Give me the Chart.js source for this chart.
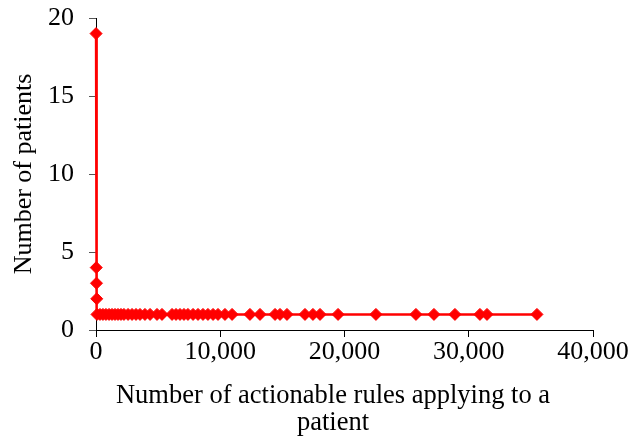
<!DOCTYPE html>
<html>
<head>
<meta charset="utf-8">
<script src="https://cdn.jsdelivr.net/npm/chart.js@4"></script>
<style>
  html, body { margin: 0; padding: 0; background: #fff; }
  #wrap { width: 641px; height: 443px; }
</style>
</head>
<body>
<div id="wrap"><canvas id="c" width="641" height="443"></canvas></div>
<script>
// Number of actionable rules that apply to each patient (x) and how many patients share that count (y)
const ruleCounts = [
  5, 20, 40, 60,
  80, 320, 560, 800, 1050, 1290, 1530, 1770, 2010, 2250, 2580, 2900, 3220, 3540,
  3940, 4350, 4910, 5310, 6120, 6440, 6760, 7080, 7400, 7810, 8210, 8610, 9010,
  9420, 9820, 10380, 10950, 12390, 13200, 14410, 14810, 15370, 16820, 17460,
  18030, 19480, 22530, 25750, 27200, 28890, 30900, 31470, 35490
];
const patientCounts = [
  19, 4, 3, 2,
  1, 1, 1, 1, 1, 1, 1, 1, 1, 1, 1, 1, 1, 1,
  1, 1, 1, 1, 1, 1, 1, 1, 1, 1, 1, 1, 1,
  1, 1, 1, 1, 1, 1, 1, 1, 1, 1, 1,
  1, 1, 1, 1, 1, 1, 1, 1, 1
];
const xTicks = [0, 10000, 20000, 30000, 40000];
const yTicks = [0, 5, 10, 15, 20];
const xTitleLines = ['Number of actionable rules applying to a', 'patient'];
const yTitle = 'Number of patients';

const FONT = '"Liberation Serif", "Times New Roman", serif';

const points = ruleCounts.map((x, i) => ({ x: x, y: patientCounts[i] }));

// Two-line x-axis caption
const xCaption = {
  id: 'xCaption',
  afterDraw(chart) {
    const ctx = chart.ctx;
    ctx.save();
    ctx.font = '26.5px ' + FONT;
    ctx.fillStyle = '#000';
    ctx.textAlign = 'center';
    ctx.textBaseline = 'alphabetic';
    ctx.fillText(xTitleLines[0], 333, 403);
    ctx.fillText(xTitleLines[1], 333, 430);
    ctx.restore();
  }
};

new Chart(document.getElementById('c'), {
  type: 'line',
  data: {
    datasets: [{
      data: points,
      borderColor: '#ff0000',
      backgroundColor: '#ff0000',
      borderWidth: 2.5,
      pointStyle: 'rectRot',
      pointRadius: 6,
      pointBorderWidth: 1,
      pointBorderColor: '#ff0000',
      pointBackgroundColor: '#ff0000',
      tension: 0,
      clip: false
    }]
  },
  options: {
    responsive: false,
    animation: false,
    events: [],
    layout: { padding: { left: 0, right: 48, top: 18, bottom: 0 } },
    plugins: { legend: { display: false }, tooltip: { enabled: false } },
    scales: {
      x: {
        type: 'linear',
        min: 0,
        max: 40000,
        afterBuildTicks(scale) { scale.ticks = xTicks.map(v => ({ value: v })); },
        afterFit(scale) { scale.height = 113; scale.paddingLeft = 0; scale.paddingRight = 0; },
        border: { display: true, color: '#000', width: 1 },
        grid: { display: true, drawOnChartArea: false, drawTicks: true, tickLength: 7, color: '#000' },
        ticks: {
          color: '#000',
          font: { family: FONT, size: 26 },
          padding: 0,
          maxRotation: 0,
          callback: v => v.toLocaleString('en-US')
        }
      },
      y: {
        type: 'linear',
        min: 0,
        max: 20,
        afterBuildTicks(scale) { scale.ticks = yTicks.map(v => ({ value: v })); },
        afterFit(scale) { scale.width = 96; scale.paddingTop = 0; scale.paddingBottom = 0; },
        border: { display: true, color: '#000', width: 1 },
        grid: { display: true, drawOnChartArea: false, drawTicks: true, tickLength: 7, color: '#555' },
        ticks: {
          color: '#000',
          font: { family: FONT, size: 26 },
          padding: 15
        },
        title: {
          display: true,
          text: yTitle,
          color: '#000',
          font: { family: FONT, size: 26 },
          padding: { top: 9, bottom: 0 }
        }
      }
    }
  },
  plugins: [xCaption]
});
</script>
</body>
</html>
